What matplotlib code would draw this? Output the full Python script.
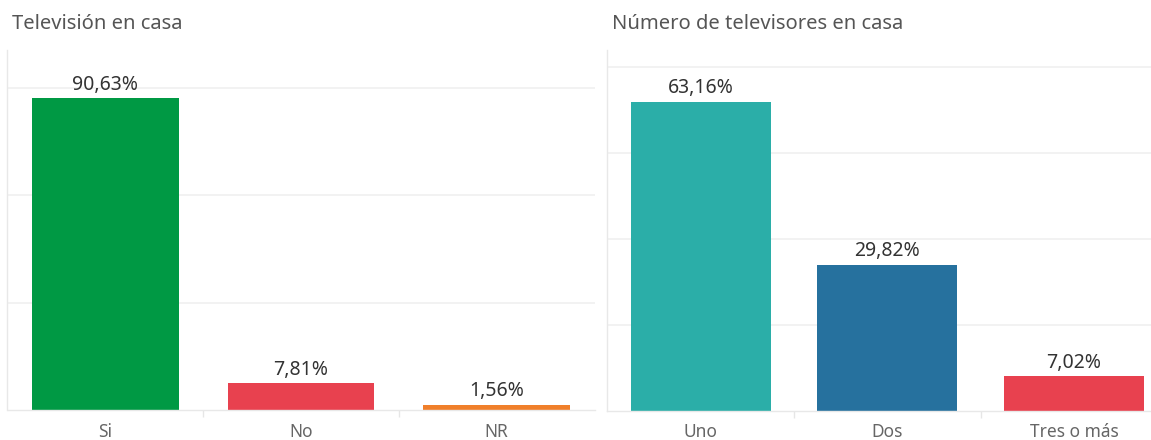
import matplotlib
matplotlib.use("Agg")
import matplotlib.pyplot as plt
import numpy as np

# fuente parecida a la de Tableau
plt.rcParams['font.family'] = ['Noto Sans', 'DejaVu Sans']

# -----------------
# DATOS
# -----------------
titulo_izq = 'Televisión en casa'
cat_izq = ['Si', 'No', 'NR']
pct_izq = [90.63, 7.81, 1.56]
etiq_izq = ['90,63%', '7,81%', '1,56%']
col_izq = ['#009944', '#E8414F', '#F07F2A']
n_izq = 64        # total de respuestas
paso_izq = 20     # lineas de la rejilla cada 20 respuestas

titulo_der = 'Número de televisores en casa'
cat_der = ['Uno', 'Dos', 'Tres o más']
pct_der = [63.16, 29.82, 7.02]
etiq_der = ['63,16%', '29,82%', '7,02%']
col_der = ['#2BAEA8', '#26719E', '#E8414F']
n_der = 57
paso_der = 10

W, H = 1151, 440
fig = plt.figure(figsize=(W / 100, H / 100), dpi=100)


def px(x0, y0, ancho, alto):
    # posicion de los ejes en pixeles (y desde arriba)
    return [x0 / W, 1 - (y0 + alto) / H, ancho / W, alto / H]


def dibuja(ax, cats, pcts, etiqs, cols, n, paso, ymax):
    x = np.arange(len(cats))
    ax.bar(x, pcts, width=0.75, color=cols, zorder=2)
    ax.set_xlim(-0.5, len(cats) - 0.5)
    ax.set_ylim(0, ymax)

    # rejilla horizontal
    rejilla = np.arange(paso, n * ymax / 100, paso) * 100 / n
    ax.set_yticks(rejilla)
    ax.yaxis.grid(True, color='#EFEFEF', lw=1.1, zorder=0)
    ax.tick_params(axis='y', length=0, labelleft=False)

    # etiquetas de categorias y separadores abajo
    ax.set_xticks(x)
    ax.set_xticklabels(cats, fontsize=12.5, color='#666666')
    ax.set_xticks(np.arange(0.5, len(cats) - 0.5), minor=True)
    ax.tick_params(axis='x', which='major', length=0, pad=9)
    ax.tick_params(axis='x', which='minor', length=5, width=1, color='#E6E6E6')

    for s in ['top', 'right']:
        ax.spines[s].set_visible(False)
    for s in ['left', 'bottom']:
        ax.spines[s].set_color('#E8E8E8')
        ax.spines[s].set_linewidth(1)

    for xi, v, t in zip(x, pcts, etiqs):
        ax.annotate(t, (xi, v), xytext=(0, 6), textcoords='offset points',
                    ha='center', va='baseline', fontsize=14, color='#333333')


ax1 = fig.add_axes(px(7.5, 50, 587, 360))
dibuja(ax1, cat_izq, pct_izq, etiq_izq, col_izq, n_izq, paso_izq, 104.7)

# el grafico de la derecha queda cortado por el borde de la imagen
ax2 = fig.add_axes(px(607.3, 50, 560, 360.5))
dibuja(ax2, cat_der, pct_der, etiq_der, col_der, n_der, paso_der, 73.7)

fig.text(12 / W, 1 - 29 / H, titulo_izq, fontsize=14.5, color='#555555', va='baseline')
fig.text(612 / W, 1 - 29 / H, titulo_der, fontsize=14.5, color='#555555', va='baseline')

fig.savefig('out.png', dpi=100)
